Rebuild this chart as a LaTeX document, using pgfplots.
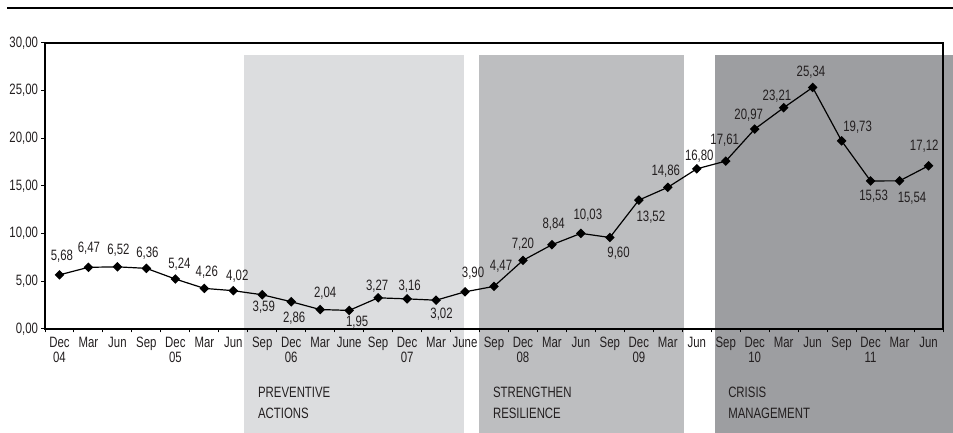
\documentclass[border=0pt]{standalone}
\usepackage{pgfplots}
\pgfplotsset{compat=1.18}
\usepackage{pgfplotstable}
\usepackage{fontspec}
\setmainfont{Liberation Sans}[FakeStretch=0.76]
\definecolor{txt}{HTML}{231F20}
\definecolor{g1}{HTML}{DCDDDF}
\definecolor{g2}{HTML}{BDBEC0}
\definecolor{g3}{HTML}{9D9EA1}

\pgfplotstableread{
x y lab dx dy
0 5.68 5,68 2.5 18.5
1 6.47 6,47 0.5 19
2 6.52 6,52 1 17
3 6.36 6,36 1 15
4 5.24 5,24 4 15
5 4.26 4,26 2.5 16.5
6 4.02 4,02 4 14
7 3.59 3,59 1.5 -12.5
8 2.86 2,86 3 -16.5
9 2.04 2,04 5 16
10 1.95 1,95 8 -12
11 3.27 3,27 -1 12
12 3.16 3,16 2.5 13
13 3.02 3,02 5.5 -14
14 3.90 3,90 8 18.5
15 4.47 4,47 7 20
16 7.20 7,20 0 15.7
17 8.84 8,84 1.7 21
18 10.03 10,03 7 18
19 9.60 9,60 8.7 -16
20 13.52 13,52 12 -17
21 14.86 14,86 -2 16
22 16.80 16,80 2.5 12.7
23 17.61 17,61 -1 21
24 20.97 20,97 -6 14
25 23.21 23,21 -6.7 11.7
26 25.34 25,34 -1.7 15.3
27 19.73 19,73 16 13.7
28 15.53 15,53 3 -15.3
29 15.54 15,54 12.5 -17.7
30 17.12 17,12 -4.3 19.3
}\data

\begin{document}
\begin{tikzpicture}
\useasboundingbox (0,0) rectangle (953pt,433pt);
\draw[line width=1.3pt, black] (7pt,425pt) -- (953pt,425pt);
\begin{axis}[
  at={(45pt,104pt)}, anchor=south west,
  scale only axis, width=898pt, height=286pt,
  xmin=-0.5, xmax=30.5, ymin=0, ymax=30,
  clip=false, axis on top,
  axis line style={line width=1.1pt, black},
  tick style={line width=1pt, black},
  tick align=outside, major tick length=3.5pt,
  tick pos=left,
  xtick={-0.5,0.5,...,30.5},
  xticklabels={{Dec\\04},Mar,Jun,Sep,{Dec\\05},Mar,Jun,Sep,{Dec\\06},Mar,June,Sep,{Dec\\07},Mar,June,Sep,{Dec\\08},Mar,Jun,Sep,{Dec\\09},Mar,Jun,Sep,{Dec\\10},Mar,Jun,Sep,{Dec\\11},Mar,Jun,{}},
  xticklabel style={xshift=14.48pt, yshift=-1pt, align=center, font=\fontsize{15}{15}\selectfont, text=txt},
  ytick={0,5,...,30},
  yticklabels={{0,00},{5,00},{10,00},{15,00},{20,00},{25,00},{30,00}},
  yticklabel style={font=\fontsize{15}{17}\selectfont, text=txt},
  /pgf/number format/assume math mode=true,
]
\fill[g1] (axis cs:6.37,-11.5) rectangle (axis cs:13.96,28.75);
\fill[g2] (axis cs:14.48,-11.5) rectangle (axis cs:21.56,28.75);
\fill[g3] (axis cs:22.63,-11.5) rectangle (axis cs:31.2,28.75);
\node[anchor=west, align=left, inner sep=0pt, font=\fontsize{15}{21}\selectfont, text=txt] at (axis cs:6.85,-7.71) {PREVENTIVE\\ACTIONS};
\node[anchor=west, align=left, inner sep=0pt, font=\fontsize{15}{21}\selectfont, text=txt] at (axis cs:14.96,-7.71) {STRENGTHEN\\RESILIENCE};
\node[anchor=west, align=left, inner sep=0pt, font=\fontsize{15}{21}\selectfont, text=txt] at (axis cs:23.08,-7.71) {CRISIS\\MANAGEMENT};
\addplot[black, line width=1.2pt, mark=square*, mark size=2.8pt,
  mark options={rotate=45, solid, fill=black},
  nodes near coords, point meta=explicit symbolic,
  visualization depends on={\thisrow{dx}\as\dx},
  visualization depends on={\thisrow{dy}\as\dy},
  every node near coord/.append style={anchor=center, xshift=\dx pt, yshift=\dy pt,
    inner sep=0pt, font=\fontsize{15}{17}\selectfont, text=txt}]
  table[x=x, y=y, meta=lab] {\data};
\end{axis}
\end{tikzpicture}
\end{document}
